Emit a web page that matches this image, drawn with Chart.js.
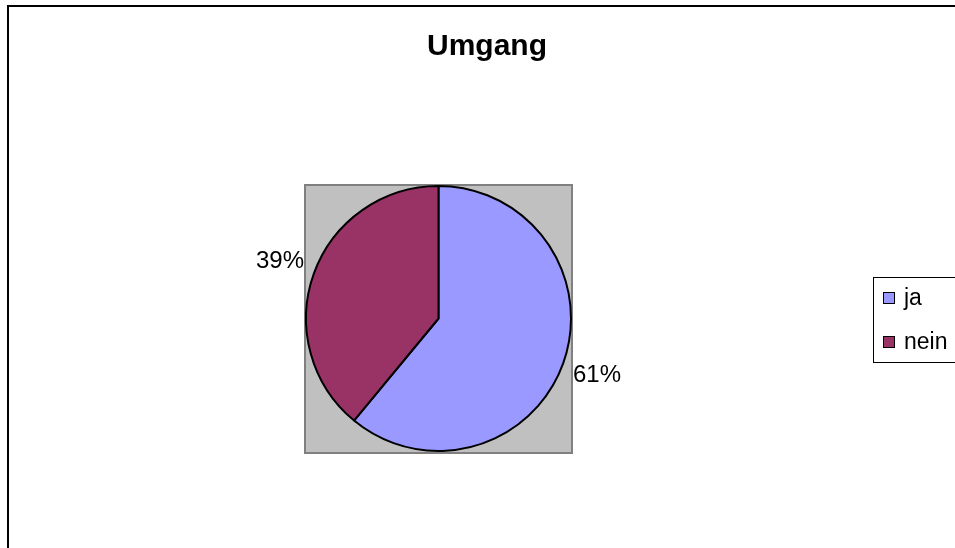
<!DOCTYPE html>
<html>
<head>
<meta charset="utf-8">
<script src="https://cdn.jsdelivr.net/npm/chart.js@4/dist/chart.umd.min.js"></script>
<style>
  html, body { margin: 0; padding: 0; background: #fff; }
  #wrap { width: 955px; height: 548px; }
</style>
</head>
<body>
<div id="wrap"><canvas id="myChart" width="955" height="548"></canvas></div>
<script>
const chartTitle = "Umgang";
const kategorien = ["ja", "nein"];
const anteile = [61, 39];
const farben = ["#9999FF", "#993366"];

const font = "'Liberation Sans', Arial, sans-serif";

// rahmen, grauer plotbereich und titel
const hintergrund = {
  id: "hintergrund",
  beforeDraw(chart) {
    const c = chart.ctx;
    c.save();
    c.fillStyle = "#fff";
    c.fillRect(0, 0, chart.width, chart.height);
    c.strokeStyle = "#000";
    c.lineWidth = 2;
    c.beginPath();
    c.moveTo(8, chart.height);
    c.lineTo(8, 6);
    c.lineTo(chart.width, 6);
    c.stroke();

    const a = chart.chartArea;
    c.fillStyle = "#C0C0C0";
    c.fillRect(a.left, a.top, a.right - a.left, a.bottom - a.top + 1);
    c.strokeStyle = "#808080";
    c.lineWidth = 2;
    c.strokeRect(a.left, a.top, a.right - a.left, a.bottom - a.top + 1);

    c.fillStyle = "#000";
    c.font = "bold 30px " + font;
    c.textAlign = "center";
    c.textBaseline = "alphabetic";
    c.fillText(chartTitle, 487, 55);
    c.restore();
  },
  afterDraw(chart) {
    const c = chart.ctx;
    const meta = chart.getDatasetMeta(0);
    const summe = anteile.reduce((s, v) => s + v, 0);
    c.save();
    // prozent-beschriftung
    c.fillStyle = "#000";
    c.font = "24px " + font;
    c.textAlign = "center";
    c.textBaseline = "middle";
    meta.data.forEach((arc, i) => {
      const p = arc.getProps(["x", "y", "startAngle", "endAngle", "outerRadius"], true);
      const mitte = (p.startAngle + p.endAngle) / 2;
      const r = p.outerRadius + 36;
      const txt = Math.round(anteile[i] / summe * 100) + "%";
      c.fillText(txt, p.x + Math.cos(mitte) * r, p.y + Math.sin(mitte) * r);
    });

    // legende
    c.fillStyle = "#fff";
    c.fillRect(873, 277, 100, 85);
    c.strokeStyle = "#000";
    c.lineWidth = 1;
    c.strokeRect(873.5, 277.5, 100, 85);
    c.font = "23px " + font;
    c.textAlign = "left";
    c.textBaseline = "alphabetic";
    kategorien.forEach((k, i) => {
      const y = 292 + i * 44;
      c.fillStyle = farben[i];
      c.fillRect(883, y, 11, 11);
      c.strokeStyle = "#000";
      c.strokeRect(883.5, y + 0.5, 11, 11);
      c.fillStyle = "#000";
      c.fillText(k, 904, y + 13);
    });
    c.restore();
  }
};

const ctx = document.getElementById("myChart");
const myChart = new Chart(ctx, {
  type: "pie",
  data: {
    labels: kategorien,
    datasets: [
      {
        data: anteile,
        backgroundColor: farben,
        borderColor: "#000",
        borderWidth: 2,
      },
    ],
  },
  options: {
    responsive: false,
    animation: false,
    layout: {
      padding: { left: 305, right: 383, top: 185, bottom: 96 },
    },
    plugins: {
      legend: { display: false },
      title: { display: false },
      tooltip: { enabled: false },
    },
  },
  plugins: [hintergrund],
});
</script>
</body>
</html>
